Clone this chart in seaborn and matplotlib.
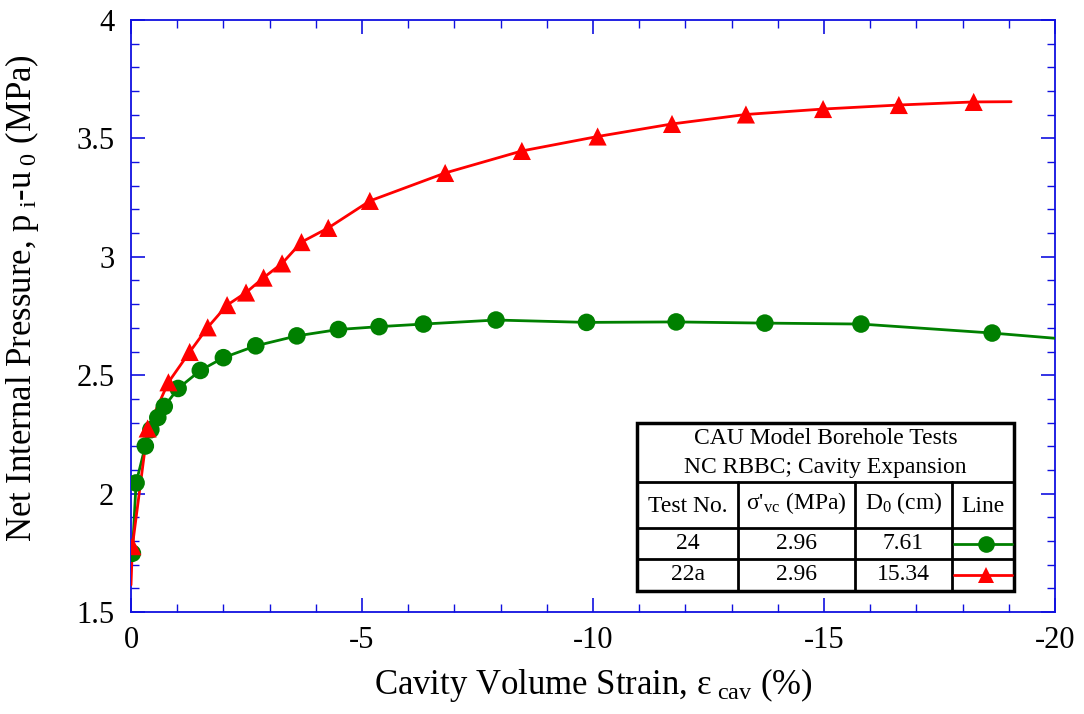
import matplotlib
matplotlib.use("Agg")
import matplotlib.pyplot as plt
import seaborn as sns
import pandas as pd
from matplotlib.lines import Line2D

sns.set_theme(style="white")
plt.rcParams["font.family"] = ["Liberation Serif", "DejaVu Serif"]
plt.rcParams["mathtext.fontset"] = "custom"
plt.rcParams["mathtext.rm"] = "Liberation Serif"
plt.rcParams["mathtext.it"] = "Liberation Serif:italic"
plt.rcParams["axes.unicode_minus"] = False
plt.rcParams["text.color"] = "black"
plt.rcParams["axes.labelcolor"] = "black"

# Test 24 (D0 = 7.61 cm): marked readings
strain_24 = [-0.03, -0.11, -0.31, -0.43, -0.58, -0.72, -1.02, -1.50, -2.00, -2.70,
             -3.59, -4.49, -5.37, -6.33, -7.90, -9.86, -11.80, -13.72, -15.80, -18.64]
press_24 = [1.748, 2.045, 2.201, 2.270, 2.321, 2.368, 2.444, 2.520, 2.574, 2.624,
            2.666, 2.693, 2.705, 2.716, 2.733, 2.723, 2.725, 2.720, 2.716, 2.678]
# curve continues to the edge of the plot
strain_24_end = [-20.0]
press_24_end = [2.656]

# Test 22a (D0 = 15.34 cm): marked readings
strain_22a = [-0.03, -0.36, -0.81, -1.27, -1.66, -2.08, -2.49, -2.87, -3.27, -3.69,
              -4.27, -5.17, -6.80, -8.46, -10.10, -11.71, -13.31, -14.98, -16.62, -18.24]
press_22a = [1.778, 2.275, 2.470, 2.598, 2.702, 2.796, 2.849, 2.912, 2.972, 3.062,
             3.122, 3.236, 3.354, 3.447, 3.508, 3.561, 3.601, 3.624, 3.641, 3.654]
strain_22a_start = [0.0]
press_22a_start = [1.614]
strain_22a_end = [-19.05]
press_22a_end = [3.655]

GREEN = "#008000"
RED = "#ff0000"
BLUE = "#1010e0"

df24 = pd.DataFrame({"strain": strain_24 + strain_24_end,
                     "pressure": press_24 + press_24_end})
df22 = pd.DataFrame({"strain": strain_22a_start + strain_22a + strain_22a_end,
                     "pressure": press_22a_start + press_22a + press_22a_end})
mk24 = pd.DataFrame({"strain": strain_24, "pressure": press_24})
mk22 = pd.DataFrame({"strain": strain_22a, "pressure": press_22a})

fig = plt.figure(figsize=(10.84, 7.14), dpi=100)
ax = fig.add_axes([131 / 1084, 1 - 612 / 714, 924 / 1084, 592 / 714])

sns.lineplot(data=df24, x="strain", y="pressure", sort=False, color=GREEN,
             linewidth=2.0, ax=ax, zorder=3)
sns.lineplot(data=df22, x="strain", y="pressure", sort=False, color=RED,
             linewidth=2.0, ax=ax, zorder=4)
sns.scatterplot(data=mk24, x="strain", y="pressure", marker="o", s=160,
                color=GREEN, edgecolor="none", ax=ax, zorder=5)
sns.scatterplot(data=mk22, x="strain", y="pressure", marker="^", s=170,
                color=RED, edgecolor="none", ax=ax, zorder=6)

ax.set_xlim(0, -20)
ax.set_ylim(1.5, 4)
ax.set_xticks([0, -5, -10, -15, -20])
ax.set_xticks(range(0, -21, -1), minor=True)
ax.set_yticks([1.5, 2, 2.5, 3, 3.5, 4])
ax.set_yticks([1.5 + 0.1 * i for i in range(26)], minor=True)
ax.set_xticklabels(["0", "-5", "-10", "-15", "-20"])
ax.set_yticklabels(["1.5", "2", "2.5", "3", "3.5", "4"])

for sp in ax.spines.values():
    sp.set_color(BLUE)
    sp.set_linewidth(1.3)
ax.tick_params(which="both", direction="in", colors=BLUE, top=True, right=True,
               bottom=True, left=True, labelcolor="black", labelsize=22)
ax.tick_params(axis="x", which="major", pad=10)
ax.tick_params(axis="y", which="major", pad=12)
ax.tick_params(which="major", length=10, width=1.2)
ax.tick_params(which="minor", length=6, width=1.0)

ax.set_xlabel(r"Cavity Volume Strain, ε$_\mathregular{\ cav}$ (%)", fontsize=25,
              labelpad=8)
ax.set_ylabel(r"Net Internal Pressure, p$_\mathregular{\ i}$-u$_\mathregular{\ 0}$ (MPa)",
              fontsize=25)
ax.yaxis.set_label_coords(-0.097, 0.53)

# Summary table drawn in figure pixel space
W, H = 1084.0, 714.0


def fx(px):
    return px / W


def fy(py):
    return 1 - py / H


left, right, top, bottom = 637, 1014, 423, 591
h1, h2, h3 = 482, 528, 559
c1, c2, c3 = 738, 855, 952
tf = fig.transFigure

fig.patches.append(plt.Rectangle((fx(left), fy(bottom)), fx(right - left),
                                 (bottom - top) / H, transform=tf,
                                 facecolor="white", edgecolor="black",
                                 linewidth=2.5, zorder=10))
for yy in (h1, h2, h3):
    fig.lines.append(Line2D([fx(left), fx(right)], [fy(yy), fy(yy)], transform=tf,
                            color="black", linewidth=2, zorder=11))
for xx in (c1, c2, c3):
    fig.lines.append(Line2D([fx(xx), fx(xx)], [fy(h1), fy(bottom)], transform=tf,
                            color="black", linewidth=2, zorder=11))

tkw = dict(transform=tf, fontsize=17, ha="center", va="center", zorder=12)
fig.text(fx((left + right) / 2), fy(439), "CAU Model Borehole Tests", **tkw)
fig.text(fx((left + right) / 2), fy(467), "NC RBBC; Cavity Expansion", **tkw)
fig.text(fx((left + c1) / 2), fy(506), "Test No.", **tkw)
fig.text(fx((c1 + c2) / 2), fy(503),
         r"σ'$_\mathregular{vc}$ (MPa)", **tkw)
fig.text(fx((c2 + c3) / 2), fy(503),
         r"D$_\mathregular{0}$ (cm)", **tkw)
fig.text(fx((c3 + right) / 2), fy(506), "Line", **tkw)

test_ids = ["24", "22a"]
sigma_vc = ["2.96", "2.96"]
d0_cm = ["7.61", "15.34"]
row_y = [(h2 + h3) / 2, (h3 + bottom) / 2]
for tid, sig, d0, ry in zip(test_ids, sigma_vc, d0_cm, row_y):
    fig.text(fx((left + c1) / 2), fy(ry), tid, **tkw)
    fig.text(fx((c1 + c2) / 2), fy(ry), sig, **tkw)
    fig.text(fx((c2 + c3) / 2), fy(ry), d0, **tkw)

for ry, col, mk in zip(row_y, [GREEN, RED], ["o", "^"]):
    fig.lines.append(Line2D([fx(c3 + 2), fx(right - 2)], [fy(ry), fy(ry)],
                            transform=tf, color=col, linewidth=2, zorder=12))
    fig.lines.append(Line2D([fx((c3 + right) / 2 + 3)], [fy(ry)], transform=tf,
                            color=col, marker=mk, markersize=12,
                            markeredgewidth=0, linestyle="none", zorder=13))

fig.savefig("out.png", dpi=100, facecolor="white")
